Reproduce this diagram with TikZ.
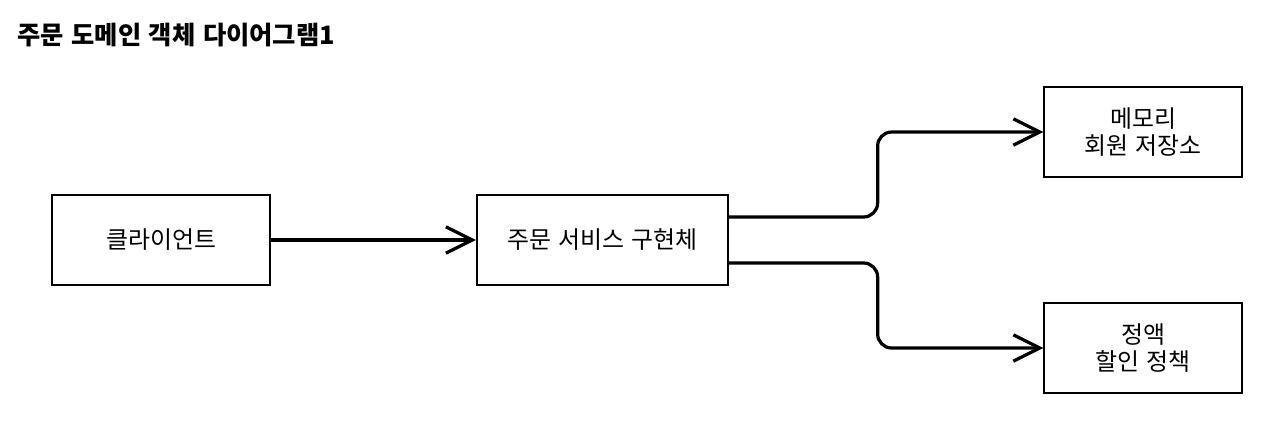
\documentclass[tikz,border=0pt]{standalone}
\usepackage{fontspec}
\setmainfont[WordSpace=1.3]{Noto Sans CJK KR}
\usetikzlibrary{arrows.meta, positioning}

\begin{document}
\begin{tikzpicture}[
  box/.style={draw, rectangle, line width=1.2pt, minimum height=2.25cm,
              inner sep=0pt, align=center, font=\fontsize{17}{19.5}\selectfont},
  flow/.style={-{Straight Barb[length=6.6mm, width=6.6mm, line width=2.3pt]},
               line width=2.3pt, rounded corners=10pt},
  heading/.style={font=\fontsize{18}{21}\selectfont\bfseries, anchor=base west, inner sep=0pt},
]
  \useasboundingbox (0,0) rectangle (32,-10.5);

  % ---- Title ----
  \node[heading] (title) at (0.43,-1.1) {주문 도메인 객체 다이어그램1};

  % ---- Objects, left to right ----
  \node[box, minimum width=5.45cm]  (client) at (4.03,-6.0)   {클라이언트};
  \node[box, minimum width=6.28cm]  (svc)    at (15.06,-6.0)  {주문 서비스 구현체};
  \node[box, minimum width=4.95cm]  (repo)   at (28.58,-3.3)  {메모리\\회원 저장소};
  \node[box, minimum width=4.95cm]  (disc)   at (28.58,-8.7)  {정액\\할인 정책};

  % ==== References ====
  \draw[flow] (client) -- (svc);                                    % client -> service
  \draw[flow] ([yshift=5.75mm]svc.east) -- ++(3.72,0) |- (repo.west);  % service -> repository
  \draw[flow] ([yshift=-5.75mm]svc.east) -- ++(3.72,0) |- (disc.west); % service -> discount policy
\end{tikzpicture}
\end{document}
